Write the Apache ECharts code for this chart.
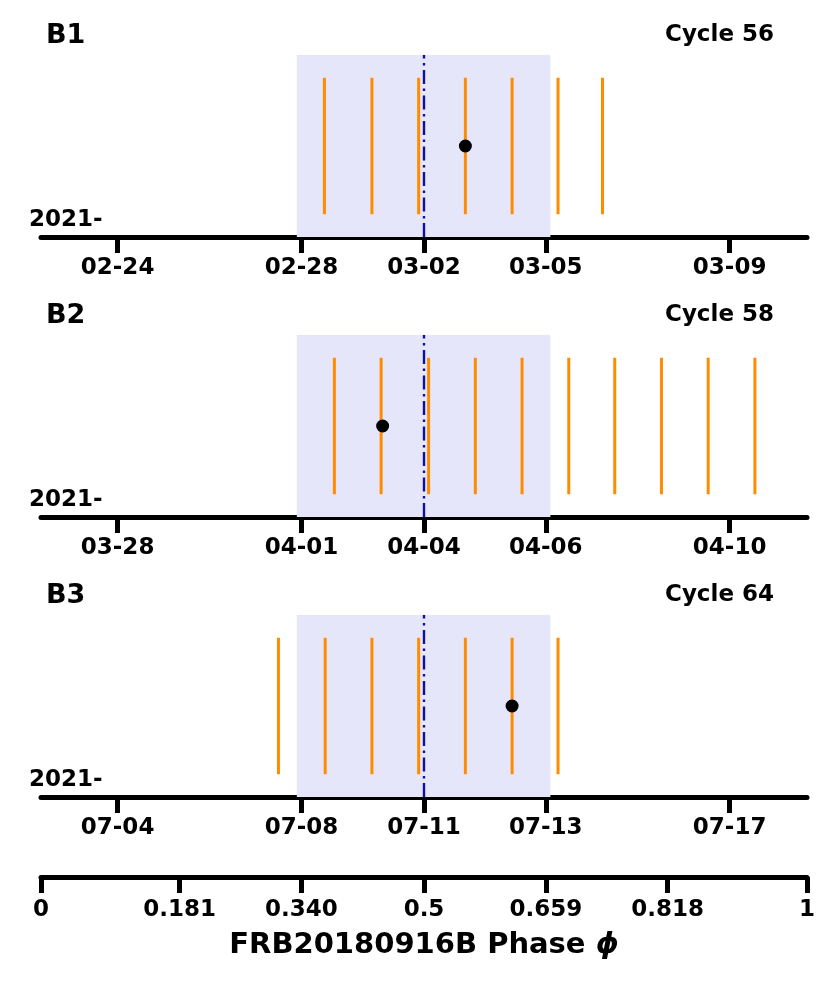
<!DOCTYPE html>
<html>
<head>
<meta charset="utf-8">
<script src="https://cdn.jsdelivr.net/npm/echarts@6/dist/echarts.min.js"></script>
<style>
  html, body { margin: 0; padding: 0; background: #fff; }
  #chart { width: 830px; height: 997px; }
</style>
</head>
<body>
<div id="chart"></div>
<script>
// panel names, cycle numbers and the date prefix
var panelNames = ['B1', 'B2', 'B3'];
var cycles = [56, 58, 64];
var yearPrefix = '2021-';

// date ticks (in phase) and their labels per panel
var dateTicks = [0.1, 0.34, 0.5, 0.659, 0.899];
var dateLabels = [
    ['02-24', '02-28', '03-02', '03-05', '03-09'],
    ['03-28', '04-01', '04-04', '04-06', '04-10'],
    ['07-04', '07-08', '07-11', '07-13', '07-17']
];

// observation epochs (phase) per panel
var obsB1 = [0.370, 0.432, 0.493, 0.554, 0.615, 0.675, 0.733];
var obsB2 = [0.383, 0.444, 0.506, 0.567, 0.628, 0.689, 0.749, 0.810, 0.871, 0.932];
var obsB3 = [0.310, 0.371, 0.432, 0.493, 0.554, 0.615, 0.675];
var observations = [obsB1, obsB2, obsB3];

// detected bursts (phase)
var bursts = [0.554, 0.446, 0.615];

// active window and its centre
var windowStart = 0.334;
var windowEnd = 0.665;
var windowCentre = 0.5;

// phase axis
var phaseTicks = [0, 0.181, 0.340, 0.5, 0.659, 0.818, 1];
var phaseLabels = ['0', '0.181', '0.340', '0.5', '0.659', '0.818', '1'];

var FONT = '"DejaVu Sans", sans-serif';

function nearestLabel(ticks, labels, v) {
    var best = 0;
    for (var i = 1; i < ticks.length; i++) {
        if (Math.abs(ticks[i] - v) < Math.abs(ticks[best] - v)) best = i;
    }
    return labels[best];
}

var chart = echarts.init(document.getElementById('chart'), null, {renderer: 'canvas'});

var grids = [], xAxes = [], yAxes = [], series = [], graphics = [];
var pitch = 280;

for (var i = 0; i < 3; i++) {
    grids.push({left: 41, right: 23, top: 55 + pitch * i, height: 182});
    (function (labels) {
        xAxes.push({
            type: 'value', gridIndex: i, min: 0, max: 1,
            axisLine: {lineStyle: {color: '#000', width: 5}},
            axisTick: {customValues: dateTicks, length: 16, lineStyle: {color: '#000', width: 5}},
            axisLabel: {
                customValues: dateTicks, margin: 20,
                fontFamily: FONT, fontSize: 23, fontWeight: 'bold', color: '#000',
                formatter: function (v) { return nearestLabel(dateTicks, labels, v); }
            },
            splitLine: {show: false}
        });
    })(dateLabels[i]);
    yAxes.push({type: 'value', gridIndex: i, min: 0, max: 1, show: false});

    // shaded window + centre line
    series.push({
        type: 'scatter', xAxisIndex: i, yAxisIndex: i, data: [], z: 1, silent: true,
        markArea: {
            silent: true,
            itemStyle: {color: '#e6e6fa'},
            data: [[{xAxis: windowStart}, {xAxis: windowEnd}]]
        },
        markLine: {
            silent: true, symbol: 'none', label: {show: false},
            lineStyle: {color: '#10109a', width: 2.4, type: [14, 4.5, 2.5, 4.5]},
            data: [{xAxis: windowCentre}]
        }
    });

    // observation sticks
    series.push({
        type: 'custom', xAxisIndex: i, yAxisIndex: i, z: 3, silent: true,
        data: observations[i].map(function (p) { return [p, 0.125, 0.875]; }),
        renderItem: function (params, api) {
            var a = api.coord([api.value(0), api.value(1)]);
            var b = api.coord([api.value(0), api.value(2)]);
            return {
                type: 'line',
                shape: {x1: a[0], y1: a[1], x2: b[0], y2: b[1]},
                style: {stroke: '#ff8c00', lineWidth: 3}
            };
        }
    });

    // burst
    series.push({
        type: 'scatter', xAxisIndex: i, yAxisIndex: i, z: 5, silent: true,
        symbolSize: 13, itemStyle: {color: '#000', opacity: 1},
        data: [[bursts[i], 0.5]]
    });

    graphics.push({
        type: 'text', left: 46, top: 22 + pitch * i,
        style: {text: panelNames[i], font: 'bold 27px ' + FONT, fill: '#000'}
    });
    graphics.push({
        type: 'text', right: 56, top: 24 + pitch * i,
        style: {text: 'Cycle ' + cycles[i], font: 'bold 23px ' + FONT, fill: '#000'}
    });
    graphics.push({
        type: 'text', left: 29, top: 209 + pitch * i,
        style: {text: yearPrefix, font: 'bold 23px ' + FONT, fill: '#000'}
    });
}

// phase axis
grids.push({left: 41, right: 23, top: 870, height: 7});
xAxes.push({
    type: 'value', gridIndex: 3, min: 0, max: 1,
    axisLine: {lineStyle: {color: '#000', width: 5}},
    axisTick: {customValues: phaseTicks, length: 16, lineStyle: {color: '#000', width: 5}},
    axisLabel: {
        customValues: phaseTicks, margin: 22,
        fontFamily: FONT, fontSize: 23, fontWeight: 'bold', color: '#000',
        formatter: function (v) { return nearestLabel(phaseTicks, phaseLabels, v); }
    },
    splitLine: {show: false},
    name: '{n|FRB20180916B Phase }{p|ϕ}',
    nameLocation: 'middle', nameGap: 54,
    nameTextStyle: {
        rich: {
            n: {fontFamily: FONT, fontSize: 29, fontWeight: 'bold', color: '#000'},
            p: {fontFamily: FONT, fontSize: 29, fontWeight: 'bold', fontStyle: 'italic', color: '#000'}
        }
    }
});
yAxes.push({type: 'value', gridIndex: 3, min: 0, max: 1, show: false});

chart.setOption({
    animation: false,
    backgroundColor: '#fff',
    grid: grids,
    xAxis: xAxes,
    yAxis: yAxes,
    series: series,
    graphic: graphics
});
</script>
</body>
</html>
